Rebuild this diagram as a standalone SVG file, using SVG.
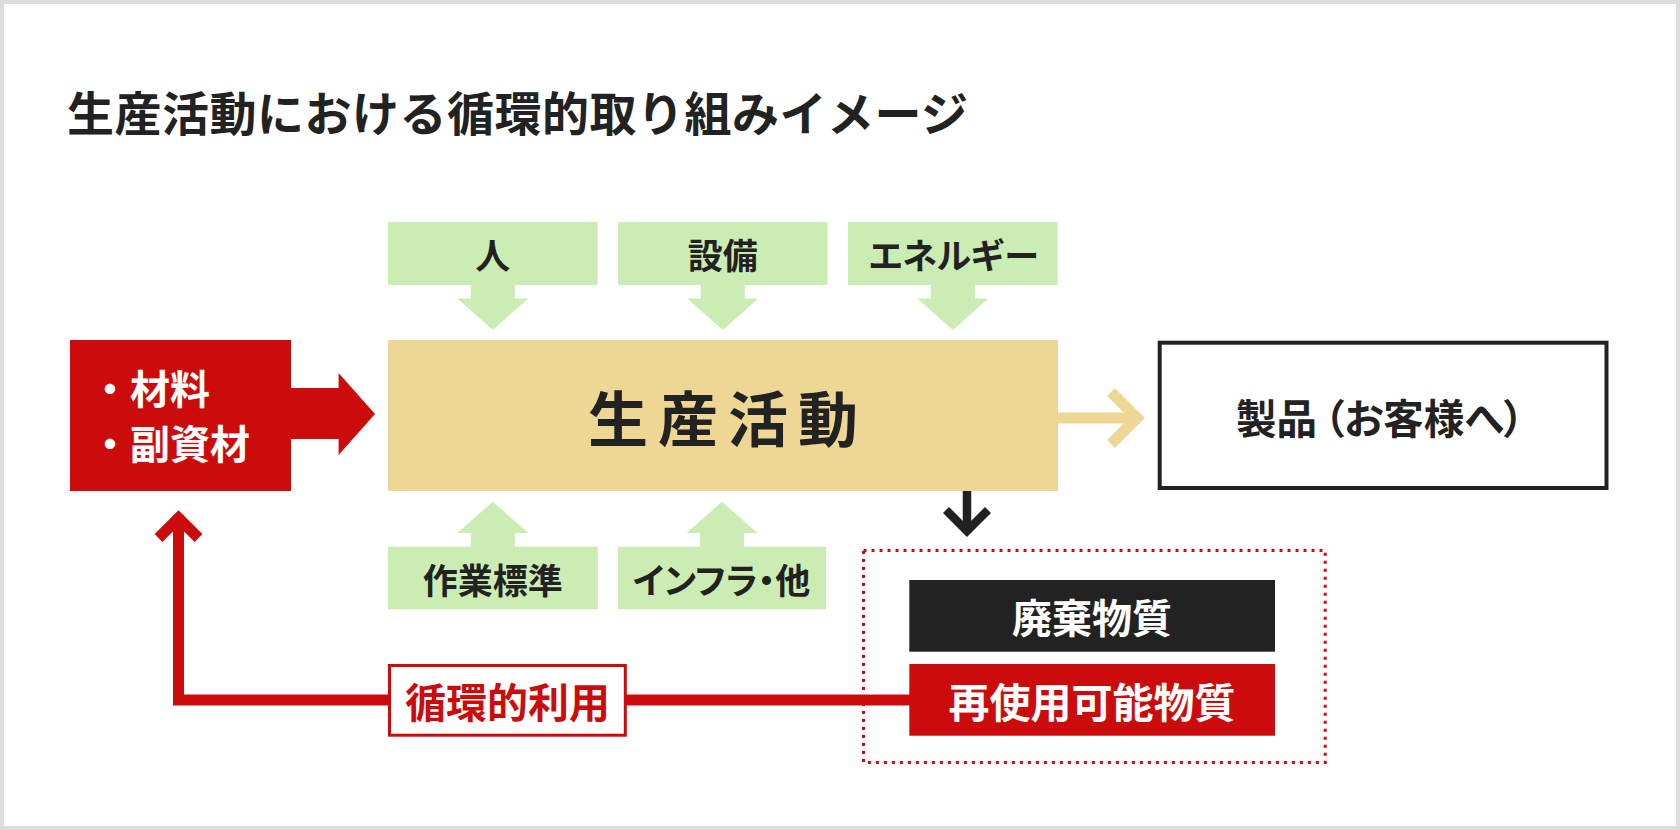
<svg xmlns="http://www.w3.org/2000/svg" width="1680" height="830" viewBox="0 0 1680 830">
<style>
text{font-family:"Noto Sans CJK JP","Noto Sans",sans-serif;font-weight:700;dominant-baseline:central;text-anchor:middle;fill:#222}
.green{fill:#cbedb4}
.lbl{font-size:35px}
.wh{fill:#fff}
.palt{font-feature-settings:"palt" 1}
</style>
<rect x="2" y="2" width="1676" height="826" fill="#fff" stroke="#dcdcdc" stroke-width="4"/>
<text x="67" y="110" style="font-size:47px;letter-spacing:0.5px;text-anchor:start">生産活動における循環的取り組みイメージ</text>

<g id="connectors">
  <polygon class="green" points="470.8,284 514.8,284 514.8,298.5 528.3,298.5 492.8,330 457.3,298.5 470.8,298.5"/>
  <polygon class="green" points="700.8,284 744.8,284 744.8,298.5 758.3,298.5 722.8,330 687.3,298.5 700.8,298.5"/>
  <polygon class="green" points="930.8,284 974.8,284 974.8,298.5 988.3,298.5 952.8,330 917.3,298.5 930.8,298.5"/>
  <polygon class="green" points="470.8,547 514.8,547 514.8,533 528.3,533 492.8,501.7 457.3,533 470.8,533"/>
  <polygon class="green" points="700,547 744,547 744,533 757.5,533 722,501.7 686.5,533 700,533"/>
  <polygon fill="#cc0c0c" points="290,388 338.6,388 338.6,373 375,414 338.6,455 338.6,439 290,439"/>
  <path d="M1057 418 H1140" stroke="#eed794" stroke-width="11" fill="none"/>
  <polyline points="1111,392 1137,418 1111,444" stroke="#eed794" stroke-width="11" fill="none"/>
  <path d="M967 490 V533" stroke="#222" stroke-width="8.5" fill="none"/>
  <polyline points="946,510 967,531 988,510" stroke="#222" stroke-width="8.5" fill="none"/>
  <path d="M910 700 H178.5 V515" stroke="#cc0c0c" stroke-width="11" fill="none" stroke-linejoin="miter"/>
  <polyline points="158.5,538 178.5,518 198.5,538" stroke="#cc0c0c" stroke-width="11" fill="none"/>
</g>

<g id="node-hito"><rect class="green" x="388" y="222" width="209.5" height="63"/><text class="lbl" x="492.8" y="253">人</text></g>
<g id="node-setsubi"><rect class="green" x="618" y="222" width="209.5" height="63"/><text class="lbl" x="722.8" y="253">設備</text></g>
<g id="node-energy"><rect class="green" x="848" y="222" width="209.7" height="63"/><text class="lbl" x="953.3" y="253" style="letter-spacing:-1px">エネルギー</text></g>
<g id="node-sagyo"><rect class="green" x="388" y="546.7" width="209.8" height="62.6"/><text class="lbl" x="492.8" y="578">作業標準</text></g>
<g id="node-infra"><rect class="green" x="618" y="546.7" width="208" height="62.6"/><text class="lbl palt" x="721.5" y="578">インフラ・他</text></g>

<g id="node-materials"><rect fill="#cc0c0c" x="70" y="340" width="221" height="151"/>
  <text class="wh" x="90" y="386.5" style="font-size:40px;text-anchor:start">・材料</text>
  <text class="wh" x="90" y="441.5" style="font-size:40px;text-anchor:start">・副資材</text></g>

<g id="node-production"><rect fill="#eed794" x="388" y="340" width="670" height="151"/>
  <text x="728" y="415" style="font-size:60px;letter-spacing:10px">生産活動</text></g>

<g id="node-product"><rect fill="#fff" stroke="#222" stroke-width="4" x="1159.7" y="342.7" width="446.8" height="145.3"/>
  <text class="palt" x="1380" y="416" style="font-size:40.5px">製品<tspan dx="7">（お客様へ）</tspan></text></g>

<g id="node-group"><rect fill="none" stroke="#cc0c0c" stroke-width="3" stroke-dasharray="3 5" x="863.5" y="550.5" width="461.7" height="212"/></g>

<g id="node-waste"><rect fill="#222" x="909.3" y="580" width="365.7" height="71.7"/><text class="wh" x="1092" y="616" style="font-size:40px">廃棄物質</text></g>
<g id="node-reuse"><rect fill="#cc0c0c" x="909.3" y="664" width="365.7" height="71.7"/><text class="wh" x="1092" y="699.5" style="font-size:41px">再使用可能物質</text></g>

<g id="node-junkan"><rect fill="#fff" stroke="#cc0c0c" stroke-width="3" x="389.5" y="665.5" width="235.8" height="69.7"/>
  <text x="507.4" y="699.5" style="font-size:41px;fill:#cc0c0c">循環的利用</text></g>
</svg>
